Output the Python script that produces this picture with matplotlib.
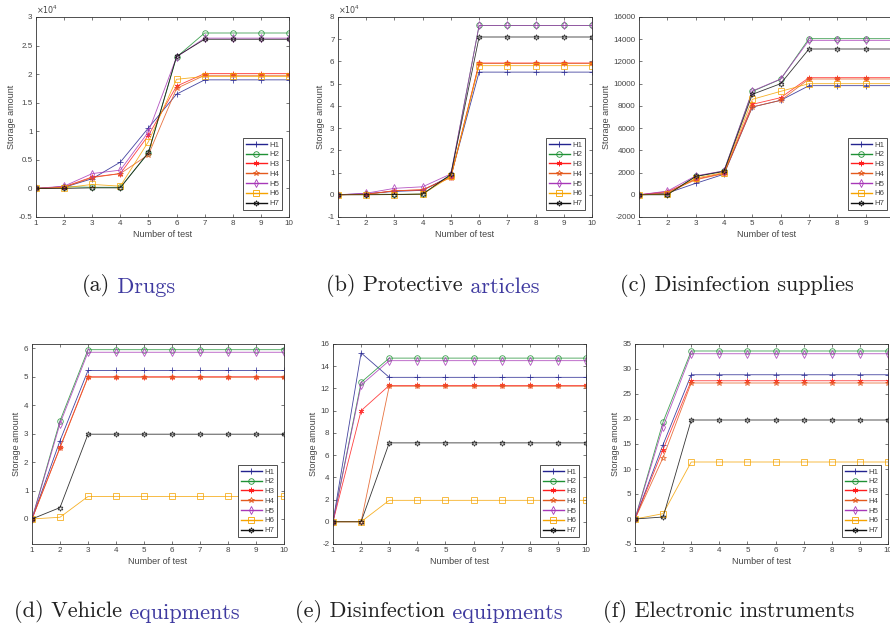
import matplotlib
matplotlib.use("Agg")
import matplotlib.pyplot as plt
from matplotlib.ticker import FuncFormatter

plt.rcParams['axes.unicode_minus'] = False
plt.rcParams['font.family'] = ['Liberation Sans', 'DejaVu Sans']

# x axis: number of test
tests = [1, 2, 3, 4, 5, 6, 7, 8, 9, 10]
series_names = ["H1", "H2", "H3", "H4", "H5", "H6", "H7"]

# storage amount per series H1..H7
drugs = [
    [0, 200, 1700, 4600, 10600, 16500, 19000, 19000, 19000, 19000],
    [0, 300, 200, 200, 6200, 23000, 27200, 27200, 27200, 27200],
    [0, 300, 2000, 2600, 9300, 17900, 20100, 20100, 20100, 20100],
    [0, 200, 1900, 2600, 5900, 17500, 19800, 19800, 19800, 19800],
    [0, 400, 2600, 3200, 9900, 23000, 26300, 26300, 26300, 26300],
    [0, 100, 700, 400, 8200, 19100, 19600, 19600, 19600, 19600],
    [0, 0, 100, 100, 6300, 23100, 26100, 26100, 26100, 26100],
]
protective = [
    [0, 500, 1500, 2000, 8500, 55200, 55200, 55200, 55200, 55200],
    [0, 300, 200, 300, 9000, 76200, 76200, 76200, 76200, 76200],
    [0, 300, 1800, 2200, 8000, 59300, 59300, 59300, 59300, 59300],
    [0, 200, 1800, 2300, 7700, 59100, 59100, 59100, 59100, 59100],
    [0, 700, 2900, 3600, 9400, 76200, 76200, 76200, 76200, 76200],
    [0, 100, 100, 300, 8300, 58100, 58100, 58100, 58100, 58100],
    [0, 0, 100, 300, 9200, 71000, 71000, 71000, 71000, 71000],
]
disinf_supplies = [
    [0, 150, 1030, 1850, 7900, 8500, 9820, 9820, 9820, 9820],
    [0, 50, 1650, 2150, 9300, 10400, 14050, 14050, 14050, 14050],
    [0, 280, 1400, 1950, 8140, 8740, 10540, 10540, 10540, 10540],
    [0, 200, 1350, 1900, 7900, 8500, 10420, 10420, 10420, 10420],
    [0, 330, 1700, 2150, 9340, 10420, 13900, 13900, 13900, 13900],
    [0, 50, 1500, 2000, 8590, 9310, 10000, 10000, 10000, 10000],
    [0, 0, 1650, 2100, 9040, 10000, 13120, 13120, 13120, 13120],
]
vehicle = [
    [0, 2.75, 5.22, 5.22, 5.22, 5.22, 5.22, 5.22, 5.22, 5.22],
    [0, 3.45, 5.95, 5.95, 5.95, 5.95, 5.95, 5.95, 5.95, 5.95],
    [0, 2.52, 5.0, 5.0, 5.0, 5.0, 5.0, 5.0, 5.0, 5.0],
    [0, 2.5, 4.98, 4.98, 4.98, 4.98, 4.98, 4.98, 4.98, 4.98],
    [0, 3.35, 5.86, 5.86, 5.86, 5.86, 5.86, 5.86, 5.86, 5.86],
    [0, 0.06, 0.79, 0.79, 0.79, 0.79, 0.79, 0.79, 0.79, 0.79],
    [0, 0.40, 2.98, 2.98, 2.98, 2.98, 2.98, 2.98, 2.98, 2.98],
]
disinf_equip = [
    [0, 15.2, 13.0, 13.0, 13.0, 13.0, 13.0, 13.0, 13.0, 13.0],
    [0, 12.55, 14.73, 14.73, 14.73, 14.73, 14.73, 14.73, 14.73, 14.73],
    [0, 10.0, 12.27, 12.27, 12.27, 12.27, 12.27, 12.27, 12.27, 12.27],
    [0, 0, 12.2, 12.2, 12.2, 12.2, 12.2, 12.2, 12.2, 12.2],
    [0, 12.3, 14.5, 14.5, 14.5, 14.5, 14.5, 14.5, 14.5, 14.5],
    [0, 0, 1.93, 1.93, 1.93, 1.93, 1.93, 1.93, 1.93, 1.93],
    [0, 0, 7.1, 7.1, 7.1, 7.1, 7.1, 7.1, 7.1, 7.1],
]
electronic = [
    [0, 14.9, 28.85, 28.85, 28.85, 28.85, 28.85, 28.85, 28.85, 28.85],
    [0, 19.45, 33.6, 33.6, 33.6, 33.6, 33.6, 33.6, 33.6, 33.6],
    [0, 13.9, 27.65, 27.65, 27.65, 27.65, 27.65, 27.65, 27.65, 27.65],
    [0, 12.3, 27.2, 27.2, 27.2, 27.2, 27.2, 27.2, 27.2, 27.2],
    [0, 18.5, 33.05, 33.05, 33.05, 33.05, 33.05, 33.05, 33.05, 33.05],
    [0, 1.07, 11.4, 11.4, 11.4, 11.4, 11.4, 11.4, 11.4, 11.4],
    [0, 0.4, 19.8, 19.8, 19.8, 19.8, 19.8, 19.8, 19.8, 19.8],
]

# caption text: (black part, blue part)
captions = [
    ("(a)", "Drugs"),
    ("(b) Protective", "articles"),
    ("(c) Disinfection supplies", ""),
    ("(d) Vehicle", "equipments"),
    ("(e) Disinfection", "equipments"),
    ("(f) Electronic instruments", ""),
]

colors = ["#23238f", "#1f9135", "#ff1f1f", "#e45a1e", "#a838b8", "#f5a300", "#111111"]
markers = ["+", "o", (6, 2, 0), "*", "d", "s", (6, 1, 0)]

W, H = 890, 625
fig = plt.figure(figsize=(W / 100, H / 100), dpi=100)

gray = "#444444"
blue = "#3f3aa0"

def make_axes(l, r, t, b):
    return fig.add_axes([l / W, 1 - b / H, (r - l) / W, (b - t) / H])

# panel: (data, axes box px, ylim, yticks, scale, caption pos px)
panels = [
    (drugs, (36, 289, 17, 217), (-5000, 30000), range(-5000, 30001, 5000), 1e4, (82, 291)),
    (protective, (338, 592, 17, 217), (-10000, 80000), range(-10000, 80001, 10000), 1e4, (326, 291)),
    (disinf_supplies, (639, 894, 17, 217), (-2000, 16000), range(-2000, 16001, 2000), 1, (620, 291)),
    (vehicle, (32, 284, 344, 544), (-0.88, 6.15), range(0, 7), 1, (14, 617)),
    (disinf_equip, (333, 586, 344, 544), (-2, 16), range(-2, 17, 2), 1, (295, 617)),
    (electronic, (635, 888, 344, 544), (-5, 35), range(-5, 36, 5), 1, (603, 617)),
]

for k, (data, box, ylim, yticks, scale, cpos) in enumerate(panels):
    ax = make_axes(*box)
    for i, name in enumerate(series_names):
        ax.plot(tests, data[i], color=colors[i], marker=markers[i], lw=0.6,
                ms=4, mew=0.6, mfc='none', alpha=0.85, label=name)
    ax.set_xlim(1, 10)
    ax.set_ylim(*ylim)
    ax.set_xticks(tests)
    ax.set_yticks(list(yticks))
    ax.yaxis.set_major_formatter(FuncFormatter(lambda v, p, s=scale: "%g" % (v / s)))
    ax.tick_params(direction='in', top=True, right=True, length=2.5, width=0.5,
                   labelsize=5.8, colors=gray, pad=2.5)
    for sp in ax.spines.values():
        sp.set_linewidth(0.6)
        sp.set_color("#333333")
    ax.set_xlabel("Number of test", fontsize=6.5, color=gray, labelpad=2)
    ax.set_ylabel("Storage amount", fontsize=6.5, color=gray, labelpad=2)
    if scale == 1e4:
        ax.text(0.0, 1.005, r"$\times10^4$", transform=ax.transAxes, fontsize=5.8,
                color=gray, ha='left', va='bottom')
    leg = ax.legend(loc='lower right', fontsize=5.6, fancybox=False, edgecolor="#333333",
                    framealpha=1, borderaxespad=0.9, labelspacing=0.3, borderpad=0.35,
                    handlelength=2.7, handletextpad=0.3)
    leg.get_frame().set_linewidth(0.6)
    for line in leg.get_lines():
        line.set_linewidth(1.0)
        line.set_alpha(1)
    for t in leg.get_texts():
        t.set_color(gray)

    # caption under the panel, second word(s) in blue
    black_part, blue_part = captions[k]
    t = fig.text(cpos[0] / W, 1 - cpos[1] / H, black_part, fontsize=16, family='cmr10',
                 ha='left', va='baseline', color='#222222')
    if blue_part:
        fig.add_artist(matplotlib.text.Annotation(
            " " + blue_part, xy=(1, 0), xycoords=t, fontsize=16, family='cmr10',
            color=blue, ha='left', va='bottom'))

fig.savefig("out.png", dpi=100)
